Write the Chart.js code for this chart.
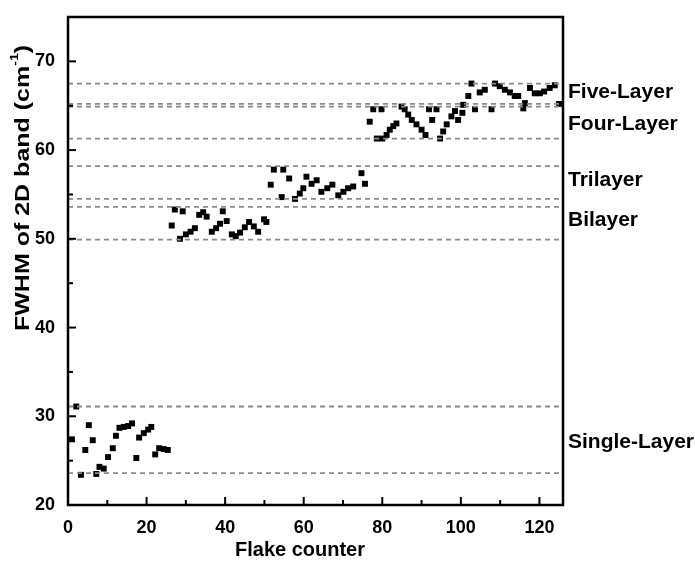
<!DOCTYPE html>
<html>
<head>
<meta charset="utf-8">
<script src="https://cdn.jsdelivr.net/npm/chart.js@4"></script>
<style>
body{margin:0;background:#fff;}
</style>
</head>
<body>
<canvas id="fwhmChart" width="695" height="570"></canvas>
<script>
// flake counter / FWHM of 2D band
var flakeCounter=[
  1.0,2.1,3.3,4.4,5.3,6.3,7.2,8.0,9.1,10.2,11.4,12.2,13.1,14.2,15.3,16.3,17.4,18.1,19.3,20.4,21.2,22.2,23.2,24.4,25.4,
  26.4,27.2,28.5,29.2,30.0,31.2,32.3,33.4,34.4,35.3,36.6,37.7,38.7,39.4,40.4,41.7,42.7,43.8,45.0,46.1,47.3,48.4,49.9,50.5,
  51.6,52.4,54.4,54.8,56.3,57.8,59.0,59.9,60.7,62.0,63.3,64.5,66.0,67.3,68.8,70.1,71.3,72.6,74.7,75.6,
  76.8,77.7,78.6,79.8,80.0,81.1,81.9,82.8,83.6,84.9,85.7,86.6,87.5,88.7,90.0,91.0,91.9,92.7,93.8,94.7,95.5,96.4,97.6,98.5,99.3,100.4,100.6,
  101.9,102.7,103.6,104.8,106.1,107.8,108.7,109.9,111.2,112.5,113.7,114.6,115.9,116.3,117.6,118.8,120.1,121.2,122.6,123.9,125.0
];
var fwhm=[
  27.4,31.1,23.4,26.2,29.0,27.3,23.5,24.3,24.1,25.4,26.4,27.8,28.7,28.8,28.9,29.2,25.3,27.6,28.1,28.5,28.8,25.7,26.4,26.3,26.2,
  51.5,53.3,50.0,53.1,50.5,50.8,51.2,52.7,53.0,52.5,50.8,51.2,51.7,53.1,52.0,50.5,50.3,50.7,51.3,51.9,51.4,50.8,52.2,51.9,
  56.1,57.8,54.7,57.8,56.8,54.5,55.1,55.7,57.0,56.2,56.6,55.3,55.7,56.1,54.9,55.3,55.7,55.9,57.4,56.2,
  63.2,64.6,61.3,64.6,61.3,61.7,62.3,62.7,63.0,64.9,64.6,64.0,63.4,62.9,62.3,61.7,64.6,63.4,64.6,61.3,62.1,62.9,63.8,64.4,63.4,64.2,65.1,
  66.1,67.5,64.6,66.5,66.8,64.6,67.5,67.2,66.8,66.5,66.1,66.1,64.7,65.3,67.0,66.4,66.4,66.6,67.0,67.3,65.2
];
// dashed boundary levels
var boundaries=[67.5,65.2,64.9,61.3,58.2,54.5,53.6,49.9,31.1,23.6];
var layerNames=["Five-Layer","Four-Layer","Trilayer","Bilayer","Single-Layer"];
var layerLabelY=[66.5,62.9,56.6,52.1,27.1];
var xRange=[0,126];
var yRange=[20,75];

var FONT="'Liberation Sans', Arial, sans-serif";

var datasets=[];
boundaries.forEach(function(b){
  datasets.push({
    type:"line",
    data:[{x:xRange[0],y:b},{x:xRange[1],y:b}],
    borderColor:"#8a8a8a",
    borderWidth:1.8,
    borderDash:[5,4],
    pointRadius:0,
    fill:false
  });
});
datasets.push({
  type:"scatter",
  data:flakeCounter.map(function(x,i){ return {x:x,y:fwhm[i]}; }),
  pointStyle:"rect",
  pointRadius:4.2,
  backgroundColor:"#000",
  borderColor:"#000",
  borderWidth:0
});

var decor={
  id:"decor",
  afterDraw:function(chart){
    var ctx=chart.ctx, a=chart.chartArea;
    var xs=chart.scales.x, ys=chart.scales.y;
    ctx.save();
    ctx.strokeStyle="#000";
    // inward ticks
    ctx.lineWidth=2;
    xs.ticks.forEach(function(t){
      if(t.value%10!=0) return;
      var px=xs.getPixelForValue(t.value);
      var len=(t.value%20==0)?8:5;
      ctx.beginPath(); ctx.moveTo(px,a.bottom); ctx.lineTo(px,a.bottom-len); ctx.stroke();
    });
    ys.ticks.forEach(function(t){
      if(t.value%5!=0 || t.value>=yRange[1]) return;
      var py=ys.getPixelForValue(t.value);
      var len=(t.value%10==0)?8:5;
      ctx.beginPath(); ctx.moveTo(a.left,py); ctx.lineTo(a.left+len,py); ctx.stroke();
    });
    // frame
    ctx.lineWidth=2.5;
    ctx.strokeRect(a.left,a.top,a.right-a.left,a.bottom-a.top);
    // layer labels
    ctx.fillStyle="#000";
    ctx.font="bold 21px "+FONT;
    ctx.textAlign="left";
    ctx.textBaseline="middle";
    layerNames.forEach(function(n,i){
      ctx.fillText(n,a.right+5,ys.getPixelForValue(layerLabelY[i]));
    });
    // x title
    ctx.font="bold 20px "+FONT;
    ctx.textAlign="center";
    ctx.fillText("Flake counter",300,550);
    // y title with superscript, squeezed across like the source
    ctx.translate(23,188);
    ctx.rotate(-Math.PI/2);
    ctx.scale(1,0.8);
    var main="FWHM of 2D band (cm", sup="-1", end=")";
    ctx.font="bold 25px "+FONT;
    var w1=ctx.measureText(main).width, w3=ctx.measureText(end).width;
    ctx.font="bold 14px "+FONT;
    var w2=ctx.measureText(sup).width;
    var x0=-(w1+w2+w3)/2;
    ctx.textAlign="left";
    ctx.font="bold 25px "+FONT;
    ctx.fillText(main,x0,0);
    ctx.font="bold 14px "+FONT;
    ctx.fillText(sup,x0+w1,-10);
    ctx.font="bold 25px "+FONT;
    ctx.fillText(end,x0+w1+w2,0);
    ctx.restore();
  }
};

var fwhmChart=new Chart(document.getElementById("fwhmChart").getContext("2d"),{
  data:{datasets:datasets},
  options:{
    responsive:false,
    animation:false,
    layout:{padding:{left:0,right:132,top:17,bottom:0}},
    plugins:{legend:{display:false},tooltip:{enabled:false}},
    scales:{
      x:{
        type:"linear",
        min:xRange[0],
        max:xRange[1],
        grid:{display:false},
        border:{display:false},
        afterFit:function(s){ s.height=65; },
        ticks:{
          stepSize:10,
          includeBounds:false,
          autoSkip:false,
          maxRotation:0,
          padding:4,
          color:"#000",
          font:{family:FONT,size:18,weight:"bold"},
          callback:function(v){ return (v%20==0)?v:""; }
        }
      },
      y:{
        type:"linear",
        min:yRange[0],
        max:yRange[1],
        grid:{display:false},
        border:{display:false},
        afterFit:function(s){ s.width=68; },
        ticks:{
          stepSize:5,
          includeBounds:false,
          autoSkip:false,
          padding:5,
          color:"#000",
          font:{family:FONT,size:18,weight:"bold"},
          callback:function(v){ return (v%10==0)?v:""; }
        }
      }
    }
  },
  plugins:[decor]
});
</script>
</body>
</html>
